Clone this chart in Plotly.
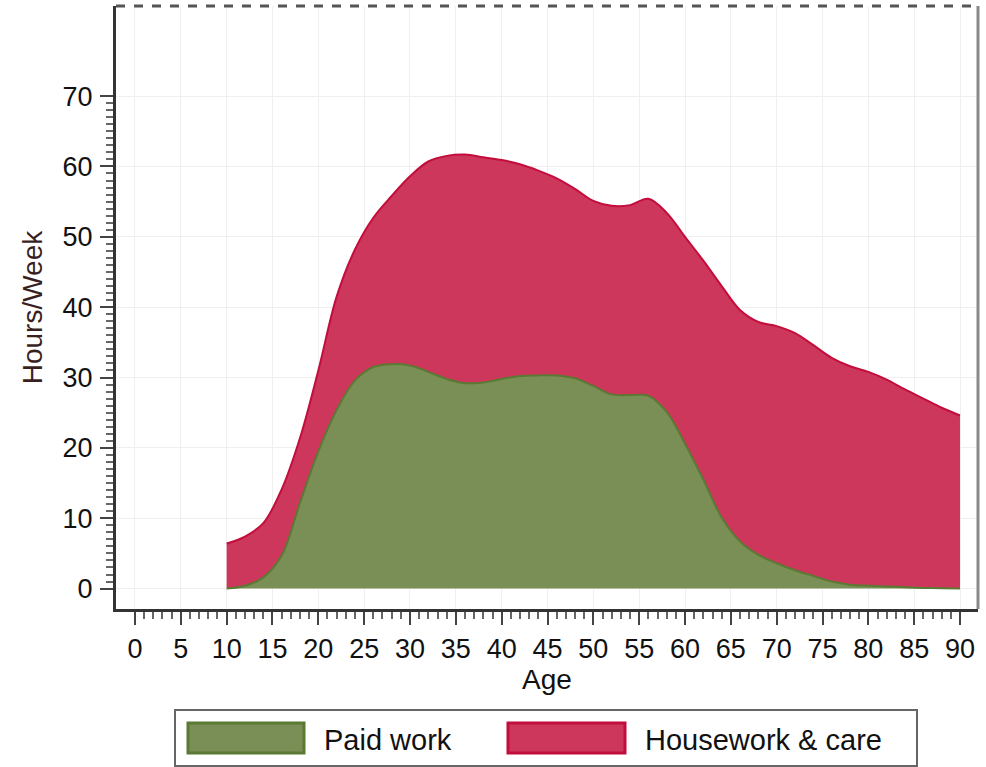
import plotly.graph_objects as go

# ---- data ----
ages = [10, 12, 14, 16, 18, 20, 22, 24, 26, 28, 30, 32, 34, 36, 38, 40, 42, 44, 46, 48,
        50, 52, 54, 56, 58, 60, 62, 64, 66, 68, 70, 72, 74, 76, 78, 80, 82, 84, 86, 88, 90]
paid_work = [0.0, 0.4, 1.6, 4.7, 12.2, 19.5, 25.4, 29.6, 31.5, 31.9, 31.7, 30.8, 29.8, 29.2,
             29.3, 29.8, 30.2, 30.3, 30.3, 29.9, 28.8, 27.6, 27.5, 27.4, 25.1, 20.6, 15.5,
             10.1, 6.7, 4.8, 3.6, 2.6, 1.8, 1.0, 0.55, 0.4, 0.3, 0.2, 0.1, 0.05, 0.0]
housework = [6.4, 7.0, 7.7, 9.4, 9.2, 11.5, 16.1, 18.6, 21.2, 23.9, 26.9, 29.9, 31.7, 32.5,
             32.0, 31.1, 30.1, 29.1, 28.0, 26.9, 26.3, 26.8, 27.0, 28.0, 28.3, 29.4, 31.1,
             32.9, 32.9, 33.1, 33.7, 33.7, 32.8, 31.8, 31.05, 30.4, 29.4, 28.1, 26.9, 25.65, 24.6]
series_names = ["Paid work", "Housework & care"]
x_ticks = list(range(0, 91, 5))
y_ticks = list(range(0, 71, 10))

GREEN_FILL = "#7a8f56"
GREEN_LINE = "#5a7a33"
RED_FILL = "#cd375c"
RED_LINE = "#c20d3d"
FONT = "Liberation Sans, Arial, sans-serif"

fig = go.Figure()
fig.add_trace(go.Scatter(x=ages, y=paid_work, name=series_names[0], stackgroup="one",
                         mode="lines", line=dict(color=GREEN_LINE, width=2, shape="spline", smoothing=1.0),
                         fillcolor=GREEN_FILL, showlegend=False))
fig.add_trace(go.Scatter(x=ages, y=housework, name=series_names[1], stackgroup="one",
                         mode="lines", line=dict(color=RED_LINE, width=2, shape="spline", smoothing=1.0),
                         fillcolor=RED_FILL, showlegend=False))

W, H = 986, 767
ml, mr, mt, mb = 116, 8, 6, 158
pw, ph = W - ml - mr, H - mt - mb

def px_x(p):
    return (p - ml) / pw

def px_y(p):
    return (H - mb - p) / ph

fig.update_layout(
    width=W, height=H,
    margin=dict(l=ml, r=mr, t=mt, b=mb),
    paper_bgcolor="white", plot_bgcolor="white",
    font=dict(family=FONT, size=28, color="#111111"),
    showlegend=False,
)
fig.update_xaxes(
    range=[-2.07, 91.96], tickmode="array", tickvals=x_ticks,
    ticks="outside", ticklen=13, tickwidth=2, tickcolor="#444444",
    showline=True, linecolor="#333333", linewidth=3, mirror=False,
    showgrid=True, gridcolor="#efefef", gridwidth=1, zeroline=False,
    tickfont=dict(size=27, family=FONT, color="#111111"), ticklabelstandoff=1,
    minor=dict(tickmode="array", tickvals=list(range(0, 91)), ticks="outside",
               ticklen=7, tickwidth=2, tickcolor="#666666", showgrid=False),
    title=dict(text="Age", font=dict(size=28, family=FONT, color="#111111"), standoff=4),
)
fig.update_yaxes(
    range=[-2.9, 82.8], tickmode="array", tickvals=y_ticks,
    ticks="outside", ticklen=13, tickwidth=2, tickcolor="#444444",
    showline=True, linecolor="#333333", linewidth=3, mirror=False,
    showgrid=True, gridcolor="#efefef", gridwidth=1, zeroline=False,
    tickfont=dict(size=27, family=FONT, color="#111111"), ticklabelstandoff=2,
    minor=dict(tickmode="array", tickvals=list(range(0, 71)), ticks="outside",
               ticklen=7, tickwidth=2, tickcolor="#666666", showgrid=False),
    title=dict(text="Hours/Week", font=dict(size=28, family=FONT, color="#3a1f1f"), standoff=12),
)

shapes = []
# top (dashed) and right borders of plot area
shapes.append(dict(type="line", xref="paper", yref="paper", x0=0, x1=1, y0=1, y1=1,
                   line=dict(color="#555555", width=3, dash="dash")))
shapes.append(dict(type="line", xref="paper", yref="paper", x0=1, x1=1, y0=0, y1=1,
                   line=dict(color="#8a8a8a", width=3)))
# legend box
shapes.append(dict(type="rect", xref="paper", yref="paper",
                   x0=px_x(175), x1=px_x(917), y0=px_y(766), y1=px_y(710),
                   line=dict(color="#666666", width=2), fillcolor="white"))
# swatches
shapes.append(dict(type="rect", xref="paper", yref="paper",
                   x0=px_x(188), x1=px_x(304), y0=px_y(753), y1=px_y(723),
                   line=dict(color=GREEN_LINE, width=3), fillcolor=GREEN_FILL))
shapes.append(dict(type="rect", xref="paper", yref="paper",
                   x0=px_x(508), x1=px_x(625), y0=px_y(753), y1=px_y(723),
                   line=dict(color=RED_LINE, width=3), fillcolor=RED_FILL))
annotations = [
    dict(xref="paper", yref="paper", x=px_x(322), y=px_y(740), text=series_names[0],
         showarrow=False, xanchor="left", yanchor="middle",
         font=dict(size=29, family=FONT, color="#111111")),
    dict(xref="paper", yref="paper", x=px_x(643), y=px_y(740), text=series_names[1],
         showarrow=False, xanchor="left", yanchor="middle",
         font=dict(size=29, family=FONT, color="#111111")),
]
fig.update_layout(shapes=shapes, annotations=annotations)

fig.write_html("out.html", config={"displayModeBar": False},
               post_script="document.body.style.margin='0px';document.body.style.padding='0px';")
